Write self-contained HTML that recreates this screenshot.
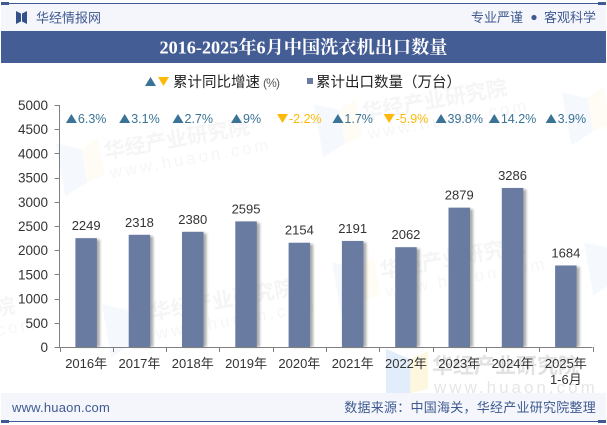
<!DOCTYPE html>
<html>
<head>
<meta charset="utf-8">
<style>
html,body{margin:0;padding:0;background:#fff}
#chart{display:block;width:607px;height:425px}
text{font-family:"Liberation Sans","Noto Sans CJK SC",sans-serif}
</style>
</head>
<body>
<svg id="chart" xmlns="http://www.w3.org/2000/svg" width="607" height="425" viewBox="0 0 607 425">
<defs>
<filter id="barShadow" x="-30%" y="-5%" width="170%" height="110%"><feGaussianBlur stdDeviation="1.4"/></filter>
</defs>
<rect width="607" height="425" fill="#fff"/>
<g id="watermarks"></g>
<rect x="1" y="3" width="605" height="28" fill="#f4f6fb"/>
<rect x="1" y="3" width="605" height="1" fill="#3f5a92"/>
<rect x="1" y="2" width="8" height="3" fill="#3f5a92"/>
<rect x="598" y="2" width="8" height="3" fill="#3f5a92"/>
<path d="M16 11l5 2.500v8l-5 2.500zM27 11l-5 2.500v8l5 2.500z" fill="#35518c"/>
<text x="36" y="22.500" font-size="13" fill="#3f5a92">华经情报网</text>
<text x="471" y="22" font-size="13" fill="#3f5a92">专业严谨</text>
<circle cx="534" cy="17.500" r="2.600" fill="#3f5a92"/>
<text x="544" y="22" font-size="13" fill="#3f5a92">客观科学</text>
<rect x="1" y="31" width="605" height="32" fill="#445e95"/>
<text x="303.500" y="53.500" font-size="18.200" font-weight="700" text-anchor="middle" fill="#fff" style='font-family:"Liberation Serif","Noto Serif CJK SC",serif'>2016-2025年6月中国洗衣机出口数量</text>
<g>
<path d="M145 86l5.500 -9 5.500 9z" fill="#3a7396"/>
<path d="M158 77h11l-5.500 9z" fill="#fdb90a"/>
<text x="173" y="87" font-size="14.500" fill="#222">累计同比增速</text>
<text x="263" y="87" font-size="12" fill="#555" textLength="17">(%)</text>
</g>
<g>
<rect x="307" y="78" width="6" height="6" fill="#697ba1"/>
<text x="316" y="87" font-size="14.500" fill="#222">累计出口数量（万台）</text>
</g>
<g id="plot"></g>
<rect x="1" y="393" width="605" height="28" fill="#f4f6fb"/>
<rect x="1" y="421" width="605" height="1" fill="#3f5a92"/>
<rect x="1" y="420" width="8" height="3" fill="#3f5a92"/>
<rect x="598" y="420" width="8" height="3" fill="#3f5a92"/>
<text x="12" y="412" font-size="13" letter-spacing="0.2" fill="#3f5a92">www.huaon.com</text>
<text x="596" y="412" font-size="13" text-anchor="end" letter-spacing="0.25" fill="#3f5a92">数据来源：中国海关，华经产业研究院整理</text>
</svg>
<script>
var categories = ['2016年','2017年','2018年','2019年','2020年','2021年','2022年','2023年','2024年','2025年'];
var volumes = [2249,2318,2380,2595,2154,2191,2062,2879,3286,1684];
var growthRates = [6.3,3.1,2.7,9,-2.2,1.7,-5.9,39.8,14.2,3.9];
var yTicks = [0,500,1000,1500,2000,2500,3000,3500,4000,4500,5000];
var lastCategorySubLabel = '1-6月';

var NS = 'http://www.w3.org/2000/svg';
var plot = document.getElementById('plot');
var marks = document.getElementById('watermarks');
function make(parent, tag, attrs, txt){
  var el = document.createElementNS(NS, tag);
  for (var k in attrs) el.setAttribute(k, attrs[k]);
  if (txt !== undefined) el.textContent = txt;
  parent.appendChild(el);
  return el;
}
var X0 = 59.5, X1 = 592.5, Y0 = 347, Y1 = 105;
function bandLeft(i){ return X0 + (X1 - X0) * i / categories.length; }
function xCenter(i){ return bandLeft(i) + (X1 - X0) / categories.length / 2; }
function yPos(v){ return Y0 - (v - yTicks[0]) / (yTicks[yTicks.length-1] - yTicks[0]) * (Y0 - Y1); }

function addWatermark(x, y, angle, strength){
  var g = make(marks, 'g', {transform:'translate('+x+','+y+') rotate('+angle+')', opacity:strength});
  
  
  make(g, 'path', {d:'M-46 -16l24 10v34l-24 10z', fill:'#cfe2fb'});
  make(g, 'path', {d:'M-22 -6l18 -8v38l-18 4z', fill:'#fdf3cc'});
  make(g, 'text', {x:0, y:8, 'font-size':21, 'font-weight':700, fill:'#cfcfcf'}, '华经产业研究院');
  make(g, 'text', {x:2, y:28, 'font-size':17, 'letter-spacing':3, fill:'#d6d6d6'}, 'www.huaon.com');
}
addWatermark(104, 151, -10, 0.2);
addWatermark(362, 112, -10, 0.2);
addWatermark(-130, 330, -10, 0.2);
addWatermark(150, 312, -10, 0.2);
addWatermark(380, 270, -10, 0.2);
addWatermark(610, 100, -10, 0.2);
addWatermark(632, 250, -10, 0.2);
addWatermark(432, 365, 0, 0.6);

yTicks.forEach(function(t){
  var y = Math.round(yPos(t)) + 0.5;
  var tick = make(plot, 'line', {x1:X0-5, x2:X0, y1:y, y2:y, stroke:'#808080'});
  
  
  var lab = make(plot, 'text', {x:48, y:yPos(t)+5, 'font-size':13.500, 'text-anchor':'end', fill:'#333'}, String(t));
  
  
});

categories.forEach(function(c, i){
  var cx = xCenter(i), top = yPos(volumes[i]), w = 21.5;
  var sh = make(plot, 'rect', {x:cx-w/2+3, y:top+1.500, width:w, height:Y0-top-1.500, fill:'#666', opacity:0.55, filter:'url(#barShadow)'});
  
  
  var bar = make(plot, 'rect', {x:cx-w/2, y:top, width:w, height:Y0-top, fill:'#697ba1'});
  
  
  var val = make(plot, 'text', {x:cx, y:top-8, 'font-size':13, 'text-anchor':'middle', fill:'#333'}, String(volumes[i]));
  
  
  var xl = make(plot, 'text', {x:cx, y:368, 'font-size':13, 'text-anchor':'middle', fill:'#333'}, c);
  
  

  var up = growthRates[i] >= 0;
  var gt = make(plot, 'text', {x:0, y:123, 'font-size':12.500, fill: up ? '#3a7396' : '#fdb90a'}, growthRates[i] + '%');
  
  
  var textW = gt.getComputedTextLength();
  var left = cx - (12 + textW) / 2;
  gt.setAttribute('x', left + 12);
  var tri = make(plot, 'path', {d: up ? 'M'+left+' 123l5.500 -9 5.500 9z' : 'M'+left+' 114h11l-5.500 9z', fill: up ? '#3a7396' : '#fdb90a'});
  
  
});

var sub = make(plot, 'text', {x:xCenter(categories.length-1), y:384, 'font-size':13, 'text-anchor':'middle', fill:'#333'}, lastCategorySubLabel);



for (var j = 0; j <= categories.length; j++){
  var tx = Math.round(bandLeft(j)) + 0.5;
  var xt = make(plot, 'line', {x1:tx, x2:tx, y1:Y0, y2:Y0+5, stroke:'#808080'});
  
  
}
var ya = make(plot, 'line', {x1:X0, x2:X0, y1:Y1, y2:Y0, stroke:'#808080'});


var xa = make(plot, 'line', {x1:X0, x2:X1, y1:Y0+0.5, y2:Y0+0.5, stroke:'#808080'});


</script>
</body>
</html>
